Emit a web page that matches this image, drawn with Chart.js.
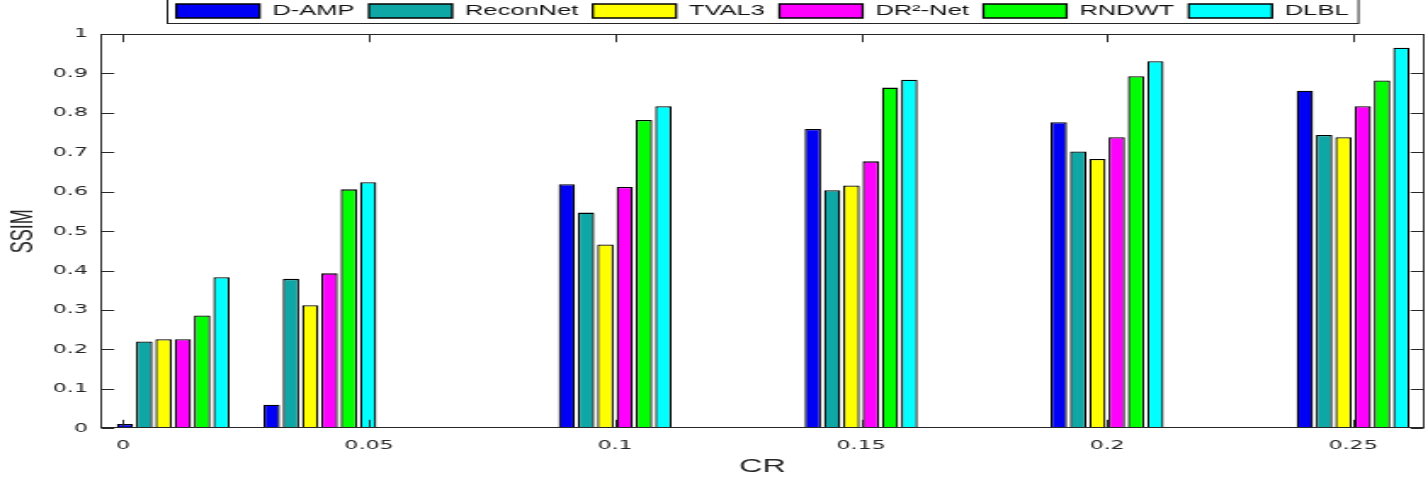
<!DOCTYPE html>
<html>
<head>
<meta charset="utf-8">
<script src="https://cdn.jsdelivr.net/npm/chart.js@4"></script>
<style>
  html, body { margin:0; padding:0; background:#fff; }
</style>
</head>
<body>
<!-- the source figure is stretched sideways, so the canvas is too -->
<canvas id="chart" width="840" height="478" style="width:1428px;height:478px"></canvas>
<script>
// CR positions where each group of bars sits (first two groups are shifted in the source)
const groupX = [0.0102, 0.0400, 0.1, 0.15, 0.2, 0.25];
const crTicks = ["0", "0.05", "0.1", "0.15", "0.2", "0.25"];
const ssimTicks = ["0", "0.1", "0.2", "0.3", "0.4", "0.5", "0.6", "0.7", "0.8", "0.9", "1"];

const names = ["D-AMP", "ReconNet", "TVAL3", "DR\u00B2-Net", "RNDWT", "DLBL"];
const colors = ["#0000f5", "#0fa6a6", "#ffff00", "#ff00ff", "#00ff00", "#00ffff"];

const dAmp     = [0.011, 0.060, 0.619, 0.759, 0.776, 0.856];
const reconNet = [0.220, 0.379, 0.547, 0.604, 0.702, 0.744];
const tval3    = [0.226, 0.312, 0.466, 0.616, 0.683, 0.738];
const dr2Net   = [0.226, 0.393, 0.612, 0.677, 0.738, 0.817];
const rndwt    = [0.286, 0.606, 0.782, 0.864, 0.893, 0.882];
const dlbl     = [0.383, 0.624, 0.817, 0.884, 0.931, 0.965];

const series = [dAmp, reconNet, tval3, dr2Net, rndwt, dlbl];

const AXIS = "#262626";
const TICK_LEN = 7.7;

function line(ctx, x1, y1, x2, y2) {
  ctx.beginPath();
  ctx.moveTo(x1, y1);
  ctx.lineTo(x2, y2);
  ctx.stroke();
}

// matlab style box with inward ticks on all four sides
const boxTicks = {
  id: "boxTicks",
  afterDatasetsDraw(chart) {
    const {ctx, chartArea: a, scales: {x, y}} = chart;
    const l = Math.round(a.left) + 0.5, r = Math.round(a.right) - 0.5;
    const t = Math.round(a.top) + 0.5, b = Math.round(a.bottom) - 0.5;
    ctx.save();
    ctx.strokeStyle = AXIS;
    ctx.lineWidth = 1;
    ctx.strokeRect(l, t, r - l, b - t);
    x.ticks.forEach(tk => {
      const px = Math.round(x.getPixelForValue(tk.value)) + 0.5;
      line(ctx, px, b, px, b - TICK_LEN);
      line(ctx, px, t, px, t + TICK_LEN);
    });
    y.ticks.forEach(tk => {
      const py = Math.round(y.getPixelForValue(tk.value)) + 0.5;
      line(ctx, l, py, l + TICK_LEN, py);
      line(ctx, r, py, r - TICK_LEN, py);
    });
    ctx.restore();
  }
};

// frame around the legend
const legendFrame = {
  id: "legendFrame",
  afterDraw(chart) {
    const lg = chart.legend;
    if (!lg || !lg.lineWidths) return;
    const pad = lg.options.labels.padding;
    const start = (lg.left + pad + lg.right - lg.lineWidths[0]) / 2;
    const end = start + lg.lineWidths[0] - pad;
    const ctx = chart.ctx;
    ctx.save();
    ctx.strokeStyle = AXIS;
    ctx.lineWidth = 1;
    ctx.strokeRect(Math.round(start - 5.5) + 0.5, lg.top + pad - 6, end - start + 11, 26);
    ctx.restore();
  }
};

Chart.defaults.font.family = "'Liberation Sans', Arial, sans-serif";
Chart.defaults.color = AXIS;

new Chart(document.getElementById("chart"), {
  type: "bar",
  data: {
    datasets: series.map((vals, i) => ({
      label: names[i],
      data: groupX.map((x, j) => ({x, y: vals[j]})),
      backgroundColor: colors[i],
      borderColor: "#000",
      borderWidth: 1.3,
      categoryPercentage: 0.79,
      barPercentage: 0.85
    }))
  },
  options: {
    responsive: false,
    devicePixelRatio: 1,
    animation: false,
    layout: { padding: { top: -5, right: 1.8, left: 0, bottom: 0 } },
    scales: {
      x: {
        type: "linear",
        min: -0.0047,
        max: 0.2646,
        offset: false,
        grid: { display: false, drawTicks: false, offset: false },
        border: { display: false },
        ticks: {
          stepSize: 0.05,
          includeBounds: false,
          padding: 10,
          maxRotation: 0,
          font: { family: "'DejaVu Sans'", size: 13 },
          callback: (v, i) => crTicks[i]
        },
        title: {
          display: true,
          text: "CR",
          font: { size: 19 },
          padding: { top: -8.7, bottom: 0 }
        }
      },
      y: {
        min: 0,
        max: 1,
        grid: { display: false, drawTicks: false },
        border: { display: false },
        ticks: {
          stepSize: 0.1,
          padding: 7,
          font: { family: "'DejaVu Sans'", size: 13 },
          callback: (v, i) => ssimTicks[i]
        },
        title: {
          display: true,
          text: "SSIM",
          font: { size: 18 },
          padding: { top: 3, bottom: -0.5 }
        }
      }
    },
    plugins: {
      legend: {
        position: "top",
        fullSize: false,
        align: "center",
        labels: {
          boxWidth: 49,
          boxHeight: 14,
          padding: 8.5,
          color: "#111",
          font: { size: 15 }
        }
      },
      // thin spacer between legend and plot box
      subtitle: {
        display: true,
        text: "",
        weight: 900,
        padding: 0,
        font: { size: 5.5, lineHeight: 1 }
      },
      tooltip: { enabled: false }
    }
  },
  plugins: [boxTicks, legendFrame]
});
</script>
</body>
</html>
